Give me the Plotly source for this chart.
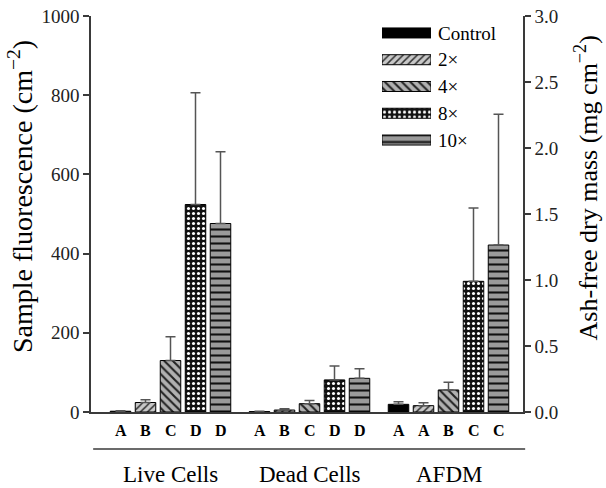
import plotly.graph_objects as go

# ---------------- data ----------------
series = ["Control", "2×", "4×", "8×", "10×"]
groups = ["Live Cells", "Dead Cells", "AFDM"]

live_mean = [2, 24, 130, 524, 476]
live_err = [1, 7, 60, 282, 181]
dead_mean = [1, 5, 21, 81, 85]
dead_err = [1, 3, 8, 35, 24]
afdm_mean = [0.058, 0.048, 0.167, 0.99, 1.265]
afdm_err = [0.020, 0.022, 0.058, 0.555, 0.99]

live_letters = ["A", "B", "C", "D", "D"]
dead_letters = ["A", "B", "C", "D", "D"]
afdm_letters = ["A", "A", "B", "C", "C"]

left_ticks = [0, 200, 400, 600, 800, 1000]
right_ticks = [0, 0.5, 1.0, 1.5, 2.0, 2.5, 3.0]

# ---------------- styles ----------------
FONT = "Liberation Serif"
AX = "#3a3a3a"
patterns = [
    dict(shape="", bgcolor="black", fgcolor="black"),
    dict(shape="/", bgcolor="#c8c8c8", fgcolor="#333333", size=5, solidity=0.3, fillmode="replace"),
    dict(shape="\\", bgcolor="#b0b0b0", fgcolor="#222222", size=6, solidity=0.35, fillmode="replace"),
    dict(shape=".", bgcolor="#111111", fgcolor="#ffffff", size=5, solidity=0.3, fillmode="replace"),
    dict(shape="-", bgcolor="#9a9a9a", fgcolor="#111111", size=7, solidity=0.3, fillmode="replace"),
]
colors = ["black", "#c8c8c8", "#b0b0b0", "#111111", "#9a9a9a"]

GROUP_STEP = 5.56
BAR_W = 0.82


def xpos(g, s):
    return g * GROUP_STEP + s


fig = go.Figure()

data_sets = [(live_mean, live_err, "y"), (dead_mean, dead_err, "y"), (afdm_mean, afdm_err, "y2")]

for s in range(len(series)):
    for g, (means, errs, yax) in enumerate(data_sets):
        fig.add_trace(go.Bar(
            x=[xpos(g, s)], y=[means[s]], width=BAR_W,
            yaxis=yax, xaxis="x",
            marker=dict(color=colors[s], pattern=patterns[s],
                        line=dict(color="black", width=1)),
            error_y=dict(type="data", array=[errs[s]], arrayminus=[0], symmetric=False,
                         color="#555555", thickness=1.5, width=5),
            showlegend=False, hoverinfo="skip",
        ))

# legend swatches as horizontal bars in a small subplot
for s in range(len(series)):
    fig.add_trace(go.Bar(
        x=[1], y=[len(series) - 1 - s], base=0, orientation="h", width=0.374,
        xaxis="x3", yaxis="y3",
        marker=dict(color=colors[s], pattern=patterns[s],
                    line=dict(color="black", width=1)),
        showlegend=False, hoverinfo="skip",
    ))

annotations = []
for g, letters in enumerate([live_letters, dead_letters, afdm_letters]):
    for s, L in enumerate(letters):
        annotations.append(dict(
            x=xpos(g, s), y=-0.0455, xref="x", yref="paper",
            text="<b>%s</b>" % L, showarrow=False,
            xanchor="center", yanchor="middle",
            font=dict(family=FONT, size=16, color="black")))
    annotations.append(dict(
        x=xpos(g, 2), y=-0.159, xref="x", yref="paper",
        text=groups[g], showarrow=False, xanchor="center", yanchor="middle",
        font=dict(family=FONT, size=23, color="black")))

annotations.append(dict(
    x=-0.162, y=0.543, xref="paper", yref="paper", textangle=-90,
    text="Sample fluorescence (cm<sup>−2</sup>)", showarrow=False,
    xanchor="center", yanchor="middle", font=dict(family=FONT, size=28, color="black")))
annotations.append(dict(
    x=1.148, y=0.567, xref="paper", yref="paper", textangle=-90,
    text="Ash-free dry mass (mg cm<sup>−2</sup>)", showarrow=False,
    xanchor="center", yanchor="middle", font=dict(family=FONT, size=26, color="black")))

fig.update_layout(
    template="none",
    width=606, height=488,
    margin=dict(l=91, r=83, t=16, b=76, autoexpand=False),
    paper_bgcolor="white", plot_bgcolor="white",
    barmode="overlay", showlegend=False,
    font=dict(family=FONT, size=19, color="#222222"),
    xaxis=dict(range=[-1.18, 2 * GROUP_STEP + 4 + 0.98], showgrid=False, zeroline=False,
               showline=True, linecolor=AX, linewidth=1.5, ticks="", showticklabels=False,
               fixedrange=True, automargin=False),
    yaxis=dict(range=[0, 1000], tickvals=left_ticks, showgrid=False, zeroline=False,
               showline=True, linecolor=AX, linewidth=1.5, ticks="outside", ticklen=6,
               tickcolor=AX, tickwidth=1.5, automargin=False,
               tickfont=dict(family=FONT, size=19, color="#222222")),
    yaxis2=dict(range=[0, 3], tickvals=right_ticks, tickformat=".1f", overlaying="y", side="right",
                anchor="x", showgrid=False, zeroline=False, showline=True, linecolor=AX,
                linewidth=1.5, ticks="outside", ticklen=6, tickcolor=AX, tickwidth=1.5,
                automargin=False, tickfont=dict(family=FONT, size=19, color="#222222")),
    xaxis3=dict(domain=[0.6736, 0.787], range=[0, 1], anchor="y3", visible=False,
                fixedrange=True, automargin=False),
    yaxis3=dict(domain=[0.653, 0.991], range=[-0.5, 4.5], anchor="x3", side="right",
                tickvals=[4, 3, 2, 1, 0], ticktext=series, showgrid=False, zeroline=False,
                showline=False, ticks="", ticklabelstandoff=6, automargin=False,
                tickfont=dict(family=FONT, size=19, color="black")),
    annotations=annotations,
    shapes=[dict(type="line", xref="paper", yref="paper", x0=0.005, x1=1.005,
                 y0=-0.0934, y1=-0.0934, line=dict(color=AX, width=1.5))],
)

fig.write_html("out.html", config={"displayModeBar": False},
               post_script="document.body.style.margin='0';document.body.style.overflow='hidden';")
